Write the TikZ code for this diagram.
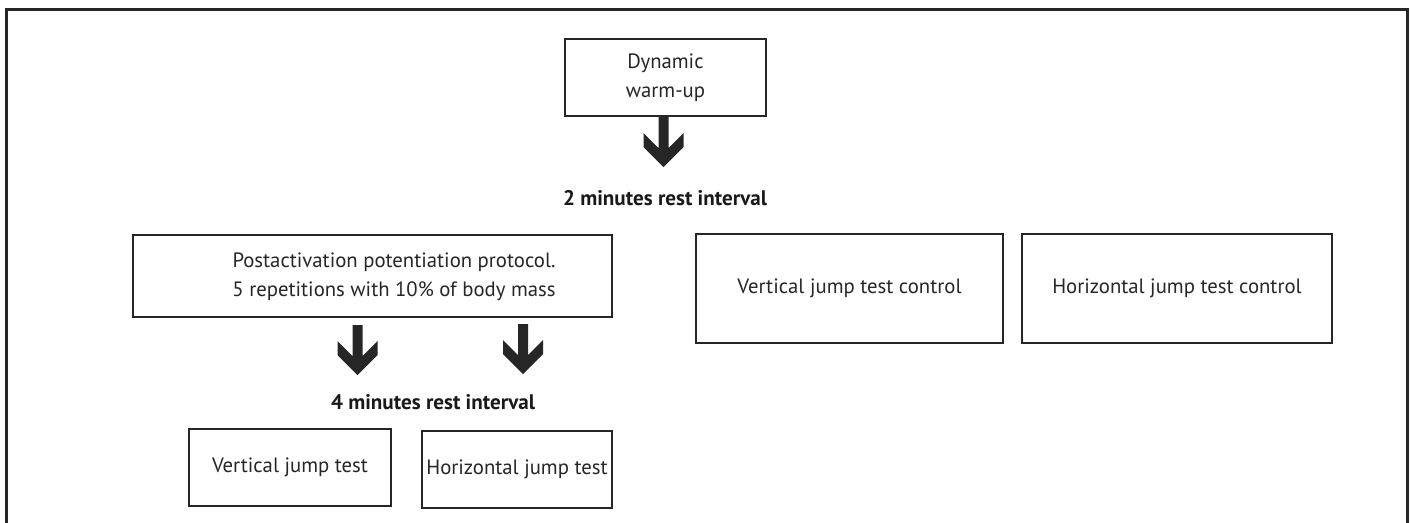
\documentclass[tikz,border=0pt]{standalone}
\usepackage{fontspec}
\setmainfont{PT Sans}
\def\pxu{0.02cm}
\tikzset{
  box/.style={draw=black!85, line width=2.6*\pxu, inner sep=0pt, align=center,
    font=\fontsize{11.8}{16.5}\selectfont, text=black!85},
  txt/.style={inner sep=0pt, align=center, font=\fontsize{11.8}{16.5}\selectfont, text=black!85},
  lbl/.style={inner sep=0pt, font=\fontsize{12}{15}\selectfont\bfseries, text=black!90},
  pics/blockarrow/.style={code={
    \fill[black!85] (-5,-50) -- (5,-50) -- (5,-19) -- (20,-34) -- (20,-20) -- (0,0)
      -- (-20,-20) -- (-20,-34) -- (-5,-19) -- cycle;}}
}
\begin{document}
\begin{tikzpicture}[x=0.02cm, y=-0.02cm]
\useasboundingbox (0,0) rectangle (1411,522);
\draw[black!85, line width=3*\pxu] (6,524) -- (6,9) -- (1407,9) -- (1407,524);

\node[box, minimum width=201*\pxu, minimum height=77*\pxu] (dyn) at (665.5,77.5) {Dynamic\\warm-up};
\node[lbl] (rest2) at (665,198) {2 minutes rest interval};
\node[box, minimum width=479*\pxu, minimum height=82*\pxu] (post) at (372.5,276) {};
\node[txt] (posttext) at (394,277)
  {Postactivation potentiation protocol.\\5 repetitions with 10\% of body mass};
\node[box, minimum width=307*\pxu, minimum height=109*\pxu] (vctrl) at (849.5,288.5) {\raisebox{-2pt}{Vertical jump test control}};
\node[box, minimum width=310*\pxu, minimum height=109*\pxu] (hctrl) at (1177,288.5) {\raisebox{-2pt}{Horizontal jump test control}};
\node[lbl] (rest4) at (433,402) {4 minutes rest interval};
\node[box, minimum width=202*\pxu, minimum height=77*\pxu] (vjt) at (290,467.5) {Vertical jump test};
\node[box, minimum width=190*\pxu, minimum height=77*\pxu] (hjt) at (517,469.5) {Horizontal jump test};

\coordinate (a1) at (663.5,167);
\coordinate (a2) at (357.5,375);
\coordinate (a3) at (523,374);
\pic at (a1) {blockarrow};
\pic at (a2) {blockarrow};
\pic at (a3) {blockarrow};
\end{tikzpicture}
\end{document}
